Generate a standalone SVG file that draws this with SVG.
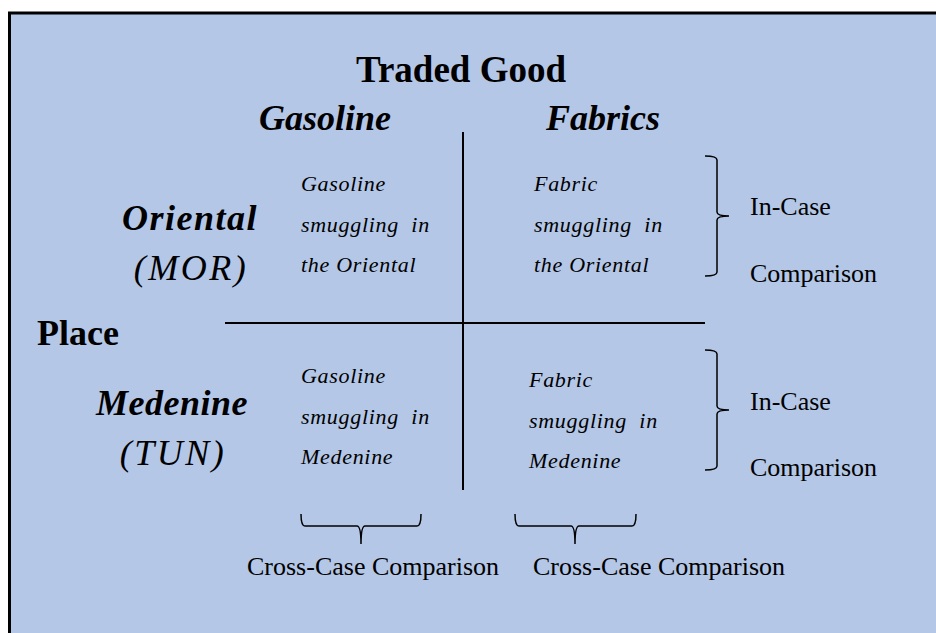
<svg xmlns="http://www.w3.org/2000/svg" width="936" height="633" viewBox="0 0 936 633">
  <style>
    .hd { font-family: "Liberation Serif", "Times New Roman", serif; font-weight: bold; font-size: 36px; fill: #000; }
    .hdi { font-family: "Liberation Serif", "Times New Roman", serif; font-weight: bold; font-style: italic; font-size: 36px; fill: #000; }
    .code { font-family: "Liberation Serif", "Times New Roman", serif; font-style: italic; font-size: 36px; fill: #000; letter-spacing: 2.5px; }
    .cell { font-family: "Liberation Serif", "Times New Roman", serif; font-style: italic; font-size: 22px; fill: #000; letter-spacing: 0.7px; }
    .note { font-family: "Liberation Serif", "Times New Roman", serif; font-size: 26px; fill: #000; }
    .rule { stroke: #000; stroke-width: 2; fill: none; }
    .brace { stroke: #000; stroke-width: 1.5; fill: none; }
  </style>
  <rect x="0" y="0" width="936" height="633" fill="#ffffff"/>
  <!-- panel -->
  <rect x="9.5" y="13" width="940" height="640" fill="#b4c7e7" stroke="#000" stroke-width="3"/>

  <!-- axis headings -->
  <g id="heading-traded-good"><text class="hd" x="461" y="82" text-anchor="middle" style="font-size:37px">Traded Good</text></g>
  <g id="heading-gasoline"><text class="hdi" x="325" y="130" text-anchor="middle">Gasoline</text></g>
  <g id="heading-fabrics"><text class="hdi" x="603" y="130" text-anchor="middle">Fabrics</text></g>
  <g id="heading-place"><text class="hd" x="37" y="345">Place</text></g>
  <g id="heading-oriental">
    <text class="hdi" x="190" y="230" text-anchor="middle" style="letter-spacing:1.5px">Oriental</text>
    <text class="code" x="191" y="280" text-anchor="middle">(MOR)</text>
  </g>
  <g id="heading-medenine">
    <text class="hdi" x="172" y="415" text-anchor="middle" style="letter-spacing:0.5px">Medenine</text>
    <text class="code" x="173" y="465" text-anchor="middle">(TUN)</text>
  </g>

  <!-- cells -->
  <g id="cell-gasoline-oriental">
    <text class="cell" x="301" y="191">Gasoline</text>
    <text class="cell" x="301" y="232" xml:space="preserve">smuggling  in</text>
    <text class="cell" x="301" y="272">the Oriental</text>
  </g>
  <g id="cell-fabric-oriental">
    <text class="cell" x="534" y="191">Fabric</text>
    <text class="cell" x="534" y="232" xml:space="preserve">smuggling  in</text>
    <text class="cell" x="534" y="272">the Oriental</text>
  </g>
  <g id="cell-gasoline-medenine">
    <text class="cell" x="301" y="383">Gasoline</text>
    <text class="cell" x="301" y="424" xml:space="preserve">smuggling  in</text>
    <text class="cell" x="301" y="464">Medenine</text>
  </g>
  <g id="cell-fabric-medenine">
    <text class="cell" x="529" y="387">Fabric</text>
    <text class="cell" x="529" y="428" xml:space="preserve">smuggling  in</text>
    <text class="cell" x="529" y="468">Medenine</text>
  </g>

  <!-- comparison labels -->
  <g id="label-in-case-top">
    <text class="note" x="750" y="215">In-Case</text>
    <text class="note" x="750" y="282">Comparison</text>
  </g>
  <g id="label-in-case-bottom">
    <text class="note" x="750" y="410">In-Case</text>
    <text class="note" x="750" y="476">Comparison</text>
  </g>
  <g id="label-cross-case-left"><text class="note" x="247" y="575">Cross-Case Comparison</text></g>
  <g id="label-cross-case-right"><text class="note" x="533" y="575">Cross-Case Comparison</text></g>

  <!-- grid rules and braces -->
  <g id="connectors">
    <line class="rule" x1="463" y1="132" x2="463" y2="490"/>
    <line class="rule" x1="225" y1="323" x2="705" y2="323"/>
    <path class="brace" d="M705 156 Q717 156 717 160 L717 212 Q717 216 729 216 Q717 216 717 220 L717 272 Q717 276 705 276"/>
    <path class="brace" d="M705 350 Q717 350 717 354 L717 406 Q717 410 729 410 Q717 410 717 414 L717 466 Q717 470 705 470"/>
    <path class="brace" d="M301 514 Q301 526 305 526 L357 526 Q361 526 361 544 Q361 526 365 526 L417 526 Q421 526 421 514"/>
    <path class="brace" d="M515 514 Q515 526 519 526 L571 526 Q575 526 575 544 Q575 526 579 526 L632 526 Q636 526 636 514"/>
  </g>
</svg>
